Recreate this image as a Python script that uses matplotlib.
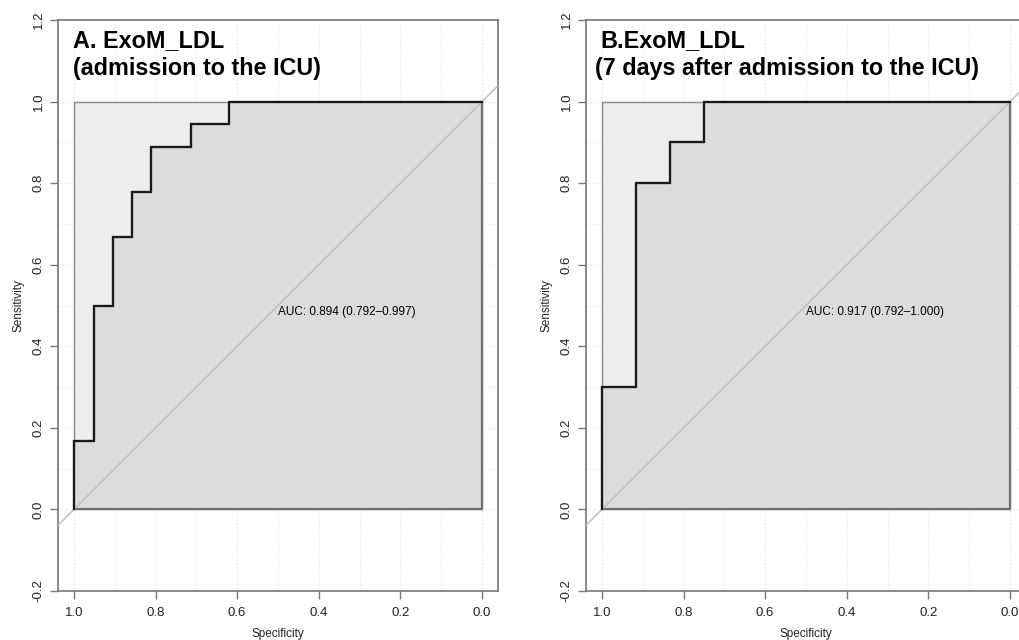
import numpy as np
import matplotlib
matplotlib.use("Agg")
import matplotlib.pyplot as plt

plt.rcParams['font.family'] = ['Liberation Sans', 'DejaVu Sans']

# ROC points (specificity, sensitivity)
spec_a = [1.0, 1.0, 0.952, 0.952, 0.905, 0.905, 0.857, 0.857, 0.810, 0.810,
          0.714, 0.714, 0.619, 0.619, 0.0]
sens_a = [0.0, 0.167, 0.167, 0.5, 0.5, 0.667, 0.667, 0.778, 0.778, 0.889,
          0.889, 0.944, 0.944, 1.0, 1.0]

spec_b = [1.0, 1.0, 0.917, 0.917, 0.833, 0.833, 0.75, 0.75, 0.0]
sens_b = [0.0, 0.3, 0.3, 0.8, 0.8, 0.9, 0.9, 1.0, 1.0]

titles_a = ["A. ExoM_LDL", "(admission to the ICU)"]
titles_b = ["B.ExoM_LDL", "(7 days after admission to the ICU)"]
auc_a = "AUC: 0.894 (0.792\u20130.997)"
auc_b = "AUC: 0.917 (0.792\u20131.000)"

x_ticks = [1.0, 0.8, 0.6, 0.4, 0.2, 0.0]
y_ticks = [-0.2, 0.0, 0.2, 0.4, 0.6, 0.8, 1.0, 1.2]
grid_steps = np.round(np.arange(0, 1.01, 0.1), 1)


def draw_roc(ax, spec, sens, titles, title_x, auc_text):
    ax.set_xlim(1.039, -0.039)
    ax.set_ylim(-0.2, 1.2)

    # dotted grid like pROC grid=c(0.1, 0.1)
    for g in grid_steps:
        ax.axvline(g, color='#e2e2e2', lw=0.8, ls=(0, (1, 2)), zorder=0)
        ax.axhline(g, color='#e2e2e2', lw=0.8, ls=(0, (1, 2)), zorder=0)

    # max auc polygon and auc polygon
    ax.fill([1, 1, 0, 0], [0, 1, 1, 0], facecolor='#eeeeee',
            edgecolor='#8a8a8a', lw=1.0, zorder=1)
    ax.fill_between(spec, sens, 0, facecolor='#dcdcdc', edgecolor='#707070',
                    lw=1.6, zorder=2)

    ax.axline((1, 0), (0, 1), color='#bbbbbb', lw=1.0, zorder=3)
    ax.plot(spec, sens, color='#1a1a1a', lw=1.6, zorder=4,
            solid_joinstyle='miter')

    ax.text(0.5, 0.5, auc_text, ha='left', va='top', fontsize=8.5, zorder=5)
    ax.text(title_x[0], 1.134, titles[0], fontsize=16.8, fontweight='bold',
            ha='left', va='baseline')
    ax.text(title_x[1], 1.064, titles[1], fontsize=16.8, fontweight='bold',
            ha='left', va='baseline')

    ax.set_xticks(x_ticks)
    ax.set_xticklabels([f"{v:.1f}" for v in x_ticks])
    ax.set_yticks(y_ticks)
    ax.set_yticklabels([f"{v:.1f}" for v in y_ticks], rotation=90, va='center')
    ax.tick_params(direction='out', length=6, width=1, colors='#777777',
                   labelcolor='#222222', labelsize=9.5)
    ax.tick_params(axis='x', pad=5.5)
    ax.tick_params(axis='y', pad=3.5)
    for s in ax.spines.values():
        s.set_color('#777777')
        s.set_linewidth(1.2)
    ax.set_xlabel("Specificity", fontsize=8.5, labelpad=6.5, color='#222222')
    ax.set_ylabel("Sensitivity", fontsize=8.5, labelpad=6, color='#222222')


fig = plt.figure(figsize=(10.19, 6.4), dpi=100)
ax1 = fig.add_axes([58 / 1019, 49 / 640, 440 / 1019, 571 / 640])
ax2 = fig.add_axes([586 / 1019, 49 / 640, 440 / 1019, 571 / 640])

draw_roc(ax1, spec_a, sens_a, titles_a, (1.003, 1.003), auc_a)
draw_roc(ax2, spec_b, sens_b, titles_b, (1.003, 1.017), auc_b)

fig.savefig("out.png", dpi=100)
